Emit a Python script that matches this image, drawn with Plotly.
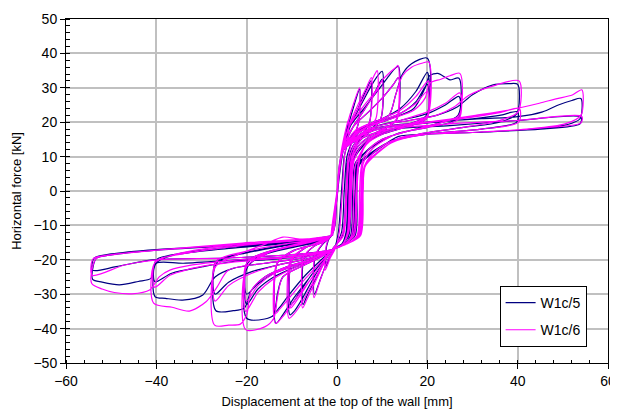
import plotly.graph_objects as go

# (displacement [mm], force [kN]) readings, one loading cycle per line
w1c5_points = [
    (-1.0,-13),(0.0,-2),(1.0,10),(1.8,16),(2.5,20),(2.3,14),(1.6,10),(1.0,0),(0.3,-12),(-0.5,-16.5),(-1.5,-19),(-2.5,-22),(-2.3,-16),(-1.6,-13.5),
    (-1.2,-13),(0.0,-1),(1.2,12),(2.5,19),(3.8,25),(5.0,29.6),(4.8,20),(3.5,15),(2.2,10),(1.6,0),(1.0,-12),(-0.5,-16.5),(-2.0,-20),(-3.5,-25),(-5.0,-30),(-4.8,-19),(-3.2,-15.5),(-1.5,-13.5),
    (-1.3,-13),(0.0,-1),(1.2,12),(3.0,19),(5.0,25),(6.5,29.5),(7.5,32),(7.2,20),(5.5,16.5),(3.5,13),(2.3,8),(2.0,0),(1.2,-13),(-0.8,-16.5),(-2.5,-20),(-4.5,-25),(-6.5,-30),(-7.5,-33),(-7.2,-19),(-5.0,-16),(-2.5,-14.5),(-1.3,-13),
    (0.0,-1),(1.3,12),(3.0,19),(5.5,25.5),(8.0,31.5),(9.3,34),(10.0,34.8),(9.7,21),(7.5,18),(5.0,15),(3.0,10),(2.4,0),(2.0,-12),(1.0,-15.5),(-1.0,-17),(-3.0,-20.5),(-5.5,-26),(-8.0,-32),(-9.5,-35),(-10.4,-36),(-10.1,-20),(-7.0,-16.5),(-3.5,-14.5),(-1.3,-13),
    (0.0,-1),(1.3,12),(3.5,18.5),(6.0,23.5),(8.5,29),(10.0,32.5),(9.7,21),(7.5,17.5),(5.0,14.5),(3.0,9.5),(2.4,0),(2.0,-12),(1.0,-15.5),(-1.0,-17),(-3.0,-20),(-6.0,-25),(-8.5,-30),(-10.2,-33),(-10.0,-20),(-7.0,-16.5),(-3.5,-14.5),(-1.3,-13),
    (0.0,-1),(1.4,12),(3.0,19),(6.0,24),(9.5,30),(11.5,33.5),(13.0,35.8),(13.6,36.2),(13.3,21),(11.0,18.5),(8.0,16.5),(5.0,13.5),(3.0,9),(2.5,0),(2.1,-12),(1.0,-15.5),(-1.0,-17),(-3.0,-20),(-6.0,-25),(-9.5,-31),(-12.0,-36),(-13.5,-38.5),(-13.2,-21),(-10.0,-17.5),(-6.0,-16),(-3.0,-14.5),(-1.3,-13),
    (0.0,-1),(1.4,12),(3.5,18.5),(7.0,23),(10.0,27),(12.5,31),(13.6,33),(13.3,21),(10.0,17.5),(6.0,14),(3.5,9),(2.6,0),(2.2,-12),(1.0,-15.5),(-1.0,-17),(-3.5,-20),(-7.0,-24.5),(-10.5,-30),(-12.8,-34),(-13.5,-35),(-13.2,-21),(-9.0,-17),(-5.0,-15.5),(-1.3,-13),
    (0.0,-1),(1.4,12),(4.0,17),(8.0,20),(11.5,22),(13.0,28),(14.5,34),(16.5,37),(20.0,38.6),(19.8,22),(16.0,19.5),(11.0,17.5),(7.0,14.5),(4.0,10),(3.0,7),(2.6,-5),(2.2,-13),(1.0,-15.5),(-1.0,-17),(-4.0,-19.5),(-8.0,-22),(-12.0,-25),(-13.2,-30),(-14.0,-36),(-16.0,-37.2),(-20.0,-37),(-19.8,-22),(-16.0,-18.5),(-10.0,-16.5),(-5.0,-15),(-1.3,-13),
    (0.0,-1),(1.4,12),(5.0,18),(10.0,21),(14.0,24),(17.5,29),(20.0,34.5),(19.8,21.5),(15.0,19),(10.0,17),(6.0,14),(3.5,9),(3.0,0),(2.5,-13),(1.0,-15.5),(-1.0,-17),(-4.0,-19.5),(-9.0,-22),(-14.0,-25),(-17.5,-28.5),(-20.0,-33),(-19.8,-21),(-15.0,-18),(-9.0,-16),(-4.0,-14.5),(-1.3,-13),
    (0.0,-1),(1.4,12),(5.0,17.5),(10.0,20.5),(14.0,22.5),(17.5,26),(20.0,31),(19.8,21),(15.0,18.5),(10.0,16.5),(6.0,13.5),(3.5,9),(3.1,0),(2.6,-13),(1.0,-15.5),(-1.0,-17),(-4.0,-19),(-9.0,-21.5),(-14.0,-24),(-17.5,-27),(-20.0,-30),(-19.8,-20.5),(-15.0,-17.5),(-9.0,-15.8),(-4.0,-14.3),(-1.3,-13),
    (0.0,-1),(1.5,12),(6.0,18),(12.0,21),(17.0,24),(19.5,30),(20.5,33.5),(22.3,34.2),(24.0,33),(25.0,32.3),(27.0,32.8),(26.8,22),(22.0,19.5),(16.0,17.5),(10.0,15),(6.0,11),(4.0,8),(3.5,0),(3.0,-13),(1.5,-15.5),(-1.0,-17),(-5.0,-19.5),(-11.0,-22),(-16.0,-25),(-19.0,-29),(-20.5,-34),(-23.0,-34.8),(-26.8,-34.8),(-26.7,-21),(-22.0,-18.5),(-15.0,-16.5),(-8.0,-15),(-3.0,-14),(-1.3,-13),
    (0.0,-1),(1.5,12),(7.0,18),(14.0,20.5),(20.0,22.5),(24.0,25),(27.0,27.5),(26.8,21),(20.0,18.5),(13.0,16.5),(7.0,12),(4.5,8),(4.0,0),(3.3,-13),(1.5,-15.5),(-1.0,-17),(-6.0,-19.5),(-13.0,-21.5),(-19.0,-23.5),(-24.0,-26.5),(-27.0,-30),(-26.8,-20.5),(-20.0,-18),(-12.0,-16),(-5.0,-14.5),(-1.3,-13),
    (0.0,-1),(1.5,12),(8.0,18.5),(16.0,20.5),(22.0,22),(26.7,24.5),(30.0,28),(34.4,30.8),(38.0,31.2),(40.0,31),(39.8,22.5),(36.0,20),(28.0,18.5),(18.0,16.5),(12.0,14.5),(6.0,9.5),(4.5,7),(4.0,0),(3.6,-13),(1.5,-15.5),(-1.0,-17),(-8.0,-19.5),(-16.0,-21),(-23.0,-22.5),(-27.0,-25),(-29.7,-30.2),(-34.2,-31.7),(-38.0,-31.2),(-40.3,-30.7),(-40.1,-21),(-36.0,-18.5),(-25.0,-16.5),(-15.0,-15.5),(-6.0,-14.5),(-1.3,-13),
    (0.0,-1),(1.5,12),(8.0,17.5),(18.0,19.5),(30.0,21),(36.0,22),(40.0,23),(39.8,20),(32.0,18),(20.0,16.5),(12.0,14.5),(6.0,9.5),(4.8,7),(4.3,0),(3.8,-13),(1.5,-15.5),(-1.0,-17),(-8.0,-19),(-16.0,-20),(-23.0,-20.5),(-29.7,-22),(-36.6,-23.9),(-40.3,-26.4),(-40.0,-20),(-33.0,-18),(-22.0,-16.5),(-10.0,-15),(-1.3,-13),
    (0.0,-1),(1.5,12),(8.0,18),(20.0,20),(32.0,21),(40.0,21.6),(45.5,23),(49.0,25),(52.0,26.3),(54.0,26.9),(53.8,21),(50.7,19.2),(42.0,17.8),(30.0,17),(20.0,16.5),(13.5,15.8),(8.0,11),(4.4,8),(4.2,0),(3.8,-13),(1.5,-15.5),(-1.0,-17),(-10.0,-19),(-22.0,-20),(-34.0,-21),(-40.0,-21),(-41.2,-25.4),(-44.0,-26.3),(-48.2,-27.3),(-52.0,-26.5),(-54.1,-25.7),(-54.0,-22),(-53.3,-19.6),(-50.0,-18.6),(-40.0,-17.2),(-25.0,-16),(-12.0,-15),(-4.0,-14),(-1.3,-13),
    (0.0,-1),(1.5,12),(10.0,17.5),(25.0,19),(40.0,20.5),(54.0,21.5),(53.8,19.5),(45.0,18),(30.0,17),(20.0,16.5),(12.0,14.5),(6.0,9),(4.7,7),(4.4,0),(4.0,-13),(1.5,-15.5),(-1.0,-17),(-10.0,-18.5),(-25.0,-19.5),(-40.8,-20),(-48.9,-22),(-54.1,-23),(-53.8,-19.5),(-50.0,-18.3),(-40.0,-17),(-25.0,-16),(-10.0,-14.8),(-1.3,-13),
]

w1c6_points = [
    (-1.0,-13),(0.0,-2),(0.9,11),(1.7,16.5),(2.6,21),(2.4,15),(1.7,10.5),(1.2,0),(0.5,-12),(-0.3,-16.5),(-1.5,-19.5),(-2.6,-23),(-2.4,-16),(-1.5,-13),
    (-1.2,-13),(-0.1,-1),(1.0,12),(2.3,19.5),(3.7,25.5),(5.0,30),(4.8,20),(3.6,15.5),(2.5,10),(2.0,0),(1.3,-12),(-0.5,-16.5),(-2.0,-20),(-3.6,-25.5),(-5.1,-31),(-4.9,-19),(-3.0,-15),(-1.2,-13),
    (-1.3,-13),(-0.1,-1),(1.1,12),(2.8,19.5),(4.8,25.5),(6.5,30),(7.6,33),(7.3,20.5),(5.5,16.5),(3.6,13),(2.6,8),(2.2,0),(1.4,-13),(-0.8,-16.5),(-2.5,-20),(-4.5,-25.5),(-6.5,-31),(-7.6,-34),(-7.3,-19),(-5.0,-16),(-2.5,-14.5),(-1.3,-13),
    (-0.1,-1),(1.2,12),(2.8,19),(4.9,24.5),(7.0,30),(8.2,33.5),(8.9,35),(8.6,21),(6.8,18),(4.8,15),(3.2,10),(2.7,0),(2.3,-12),(1.2,-15.5),(-1.0,-17),(-3.0,-21),(-5.5,-27),(-8.0,-33),(-9.7,-36),(-10.6,-37),(-10.3,-20),(-7.0,-16.5),(-3.5,-14.5),(-1.3,-13),
    (-0.1,-1),(1.2,12),(3.5,18.5),(6.0,23.5),(8.5,28.5),(10.0,32),(9.7,21),(7.5,17.5),(5.0,14.5),(3.3,9.5),(2.8,0),(2.4,-12),(1.2,-15.5),(-1.0,-17),(-3.0,-20.5),(-6.0,-26),(-8.5,-31),(-10.3,-34),(-10.0,-20),(-7.0,-16.5),(-3.5,-14.5),(-1.3,-13),
    (-0.1,-1),(1.3,12),(2.7,18.7),(5.5,24),(8.5,29),(10.1,32.3),(12.0,34.8),(13.1,36),(13.5,36.5),(13.2,21),(11.0,18.5),(8.0,16.5),(5.0,13.5),(3.5,9),(3.0,0),(2.5,-12),(1.2,-15.5),(-1.0,-17),(-3.0,-20.5),(-6.0,-26),(-9.5,-32),(-12.0,-36.5),(-13.6,-38.5),(-13.3,-21),(-10.0,-17.5),(-6.0,-16),(-3.0,-14.5),(-1.3,-13),
    (-0.1,-1),(1.3,12),(3.5,18.5),(7.0,23),(10.0,27),(12.5,31),(13.6,33),(13.3,21),(10.0,17.5),(6.0,14),(3.8,9),(3.2,0),(2.6,-12),(1.2,-15.5),(-1.0,-17),(-3.5,-20.5),(-7.0,-25.5),(-10.5,-31),(-12.8,-34.5),(-13.5,-35.5),(-13.2,-21),(-9.0,-17),(-5.0,-15.5),(-1.3,-13),
    (-0.1,-1),(1.3,12),(4.0,17.5),(8.0,20),(11.5,22),(13.0,28),(14.5,33.5),(16.5,36),(19.0,37.2),(20.3,37.5),(20.0,22),(16.0,19.5),(11.0,17.5),(7.0,14.5),(4.8,10),(4.0,7),(3.6,-5),(3.2,-13),(1.5,-15.5),(-1.0,-17),(-4.0,-19.5),(-8.0,-22),(-12.0,-25),(-13.2,-31),(-14.0,-37),(-16.0,-39.5),(-20.2,-40.3),(-20.0,-22),(-16.0,-18.5),(-12.0,-16.5),(-6.0,-14.5),(-1.3,-13),
    (-0.1,-1),(1.3,12),(5.0,18),(10.0,21),(14.0,23.5),(17.5,27.5),(20.2,32),(20.0,21.5),(15.0,19),(10.0,17),(6.5,14),(4.8,9),(4.2,0),(3.5,-13),(1.5,-15.5),(-1.0,-17),(-4.0,-19.5),(-9.0,-22),(-14.0,-25.5),(-17.5,-29.5),(-20.2,-35),(-20.0,-21),(-15.0,-17.8),(-9.0,-15.8),(-4.0,-14.3),(-1.3,-13),
    (-0.1,-1),(1.3,12),(5.0,17.5),(10.0,20.5),(14.0,22.5),(17.5,25.5),(20.0,29),(19.8,21),(15.0,18.5),(10.0,16.5),(6.5,13.5),(5.0,9),(4.4,0),(3.8,-13),(1.5,-15.5),(-1.0,-17),(-4.0,-19),(-9.0,-21.5),(-14.0,-24),(-17.5,-27.5),(-20.0,-32),(-19.8,-20.5),(-15.0,-17.5),(-9.0,-15.5),(-4.0,-14),(-1.3,-13),
    (-0.1,-1),(1.5,12),(6.0,18),(12.0,21),(17.0,23.5),(19.5,27),(20.5,31.3),(23.0,32.5),(25.0,33.5),(27.2,34.2),(27.0,22),(22.0,19.5),(16.0,17.5),(10.0,15),(7.0,12),(5.5,8),(5.0,0),(4.4,-13),(2.0,-15.5),(-1.0,-17),(-5.0,-19.5),(-11.0,-22),(-16.0,-25),(-19.0,-29),(-20.0,-36),(-21.4,-38.7),(-24.0,-39),(-27.1,-39),(-26.9,-22),(-22.0,-18.5),(-16.0,-15.5),(-12.0,-13.4),(-8.0,-14),(-3.0,-13.5),(-1.3,-13),
    (-0.1,-1),(1.5,12),(7.0,18),(14.0,20.5),(20.0,23),(24.0,25.5),(27.2,28.5),(27.0,21),(20.0,18.5),(13.0,16.5),(8.0,12.5),(5.8,8),(5.3,0),(4.6,-13),(2.0,-15.5),(-1.0,-17),(-6.0,-19.5),(-13.0,-21.5),(-19.0,-24),(-24.0,-27.5),(-27.0,-32),(-26.8,-20.5),(-20.0,-17.5),(-12.0,-15.5),(-5.0,-14.3),(-1.3,-13),
    (-0.1,-1),(1.5,12),(8.0,18.5),(16.0,20.5),(22.0,22),(26.0,24.5),(29.3,27.9),(35.2,30.8),(40.3,32),(40.1,23),(36.0,20.5),(28.0,18.5),(18.0,16.5),(12.0,14.5),(8.0,11),(6.0,7),(5.5,0),(4.8,-13),(2.0,-15.5),(-1.0,-17),(-8.0,-19.5),(-16.0,-21),(-24.0,-23),(-26.6,-28),(-29.0,-32.2),(-32.7,-34.9),(-36.5,-33.8),(-40.6,-32.6),(-40.4,-21),(-36.0,-18.5),(-25.0,-16),(-15.0,-15),(-6.0,-14),(-1.3,-13),
    (-0.1,-1),(1.5,12),(8.0,17.5),(18.0,19.5),(30.0,21.5),(36.0,22.8),(40.4,24),(40.2,20),(32.0,18),(20.0,16.5),(12.0,14.5),(8.0,11),(6.2,7),(5.7,0),(5.0,-13),(2.0,-15.5),(-1.0,-17),(-8.0,-19),(-18.0,-20),(-28.0,-21.5),(-33.0,-22.8),(-37.0,-24.5),(-40.4,-28),(-40.2,-20.5),(-33.0,-18),(-22.0,-16),(-10.0,-14.5),(-1.3,-13),
    (-0.1,-1),(1.5,12),(8.0,18),(20.0,20),(30.7,22),(38.0,23.5),(44.8,25.5),(48.5,26.8),(52.1,27.9),(54.2,29.4),(54.0,22),(50.5,19.5),(42.0,18),(30.0,17),(20.0,16.5),(14.0,15.5),(9.0,11),(6.2,7),(5.8,0),(5.2,-13),(2.0,-15.5),(-1.0,-17),(-10.0,-19),(-22.0,-20),(-32.0,-21.5),(-37.0,-23),(-39.3,-24.9),(-41.5,-28.8),(-45.4,-29.9),(-49.3,-29.5),(-52.0,-28.5),(-54.3,-26.9),(-54.1,-22),(-53.3,-19.6),(-50.0,-18.6),(-40.0,-17.2),(-21.6,-15.2),(-10.0,-14.2),(-1.3,-13),
    (-0.1,-1),(1.5,12),(10.0,17.5),(25.0,19.5),(40.0,20.5),(54.2,21.7),(54.0,19.8),(45.0,18.3),(30.0,17),(20.0,16.5),(12.0,14),(7.0,9),(6.0,7),(5.6,0),(5.0,-13),(2.0,-15.5),(-1.0,-17),(-10.0,-18.5),(-25.0,-19.5),(-40.0,-20),(-47.0,-21.5),(-54.2,-24.5),(-54.0,-19.7),(-50.0,-18.5),(-40.0,-17.2),(-25.0,-15.8),(-10.0,-14.5),(-1.3,-13),
]

series_names = ["W1c/5", "W1c/6"]
series_colors = ["#000080", "#FF00FF"]

x_ticks = [-60, -40, -20, 0, 20, 40, 60]
y_ticks = [-50, -40, -30, -20, -10, 0, 10, 20, 30, 40, 50]

FONT = "Liberation Sans, Arial, sans-serif"

fig = go.Figure()
for name, color, pts, grp in zip(series_names, series_colors, [w1c5_points, w1c6_points], ["a", "b"]):
    fig.add_trace(go.Scatter(
        x=[p[0] for p in pts], y=[p[1] for p in pts],
        mode="lines", name=name, legendgroup=grp,
        line=dict(color=color, width=1.2, shape="spline", smoothing=0.8),
    ))

axis_common = dict(
    showline=True, linecolor="black", linewidth=1, mirror=True,
    showgrid=True, gridcolor="#c0c0c0", gridwidth=1.5,
    zeroline=False, ticks="outside", ticklen=5, tickcolor="black",
    tickfont=dict(family=FONT, size=14, color="black"),
    automargin=False,
)

fig.update_xaxes(
    range=[-60, 60], tickvals=x_ticks,
    minor=dict(ticks="inside", dtick=4, ticklen=3, tickcolor="black", showgrid=False),
    title=dict(text="Displacement at the top of the wall [mm]", font=dict(family=FONT, size=13, color="black"), standoff=9),
    **axis_common,
)
fig.update_yaxes(
    range=[-50, 50], tickvals=y_ticks,
    minor=dict(ticks="inside", dtick=2, ticklen=4, tickcolor="black", showgrid=False),
    title=dict(text="Horizontal force [kN]", font=dict(family=FONT, size=13, color="black"), standoff=8),
    **axis_common,
)

# the page body adds an 8 px offset, so the figure is 8 px smaller than the window
fig.update_layout(
    width=610, height=406,
    margin=dict(l=58, r=10, t=11, b=51),
    paper_bgcolor="white", plot_bgcolor="white",
    font=dict(family=FONT, size=13, color="black"),
    showlegend=True,
    legend=dict(
        x=0.80, y=0.224, xanchor="left", yanchor="top",
        bordercolor="black", borderwidth=1, bgcolor="white",
        font=dict(family=FONT, size=14, color="black"),
        tracegroupgap=6, traceorder="grouped",
    ),
)

fig.write_html("out.html")
